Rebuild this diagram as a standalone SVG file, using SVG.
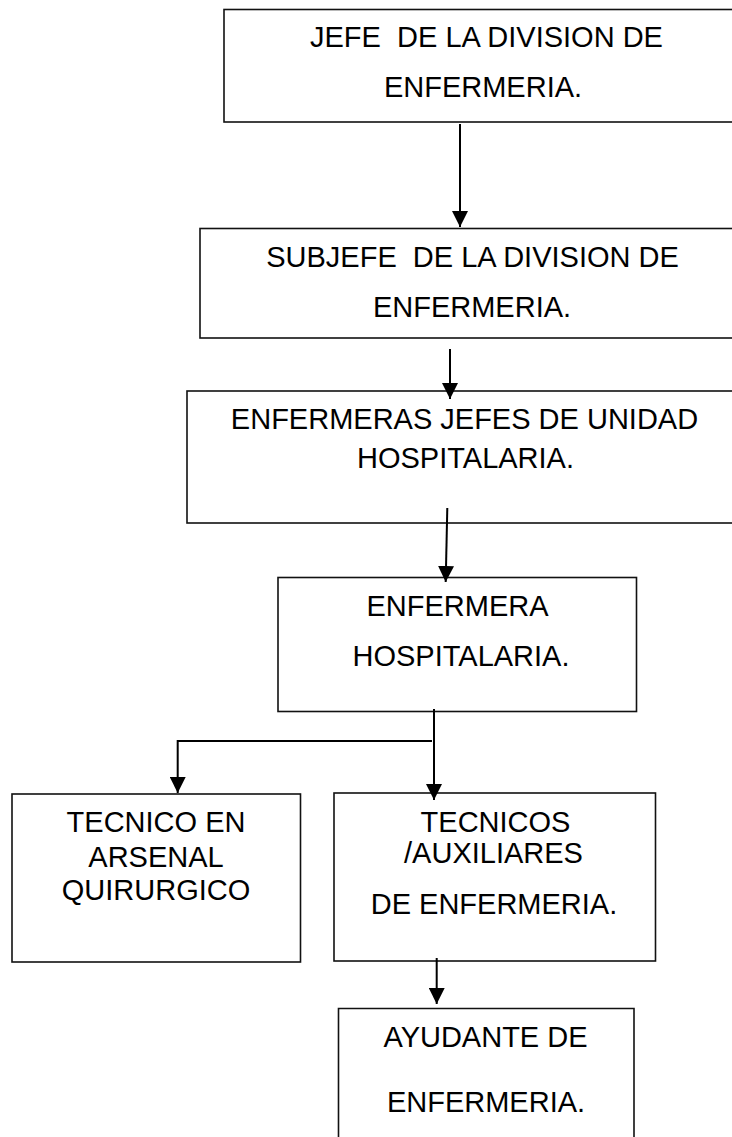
<svg xmlns="http://www.w3.org/2000/svg" width="732" height="1137" viewBox="0 0 732 1137">
<style>
.box{fill:#ffffff;stroke:#111111;stroke-width:1.6}
.t{font-family:"Liberation Sans",Arial,sans-serif;font-size:29px;fill:#000000;text-anchor:middle}
.c{fill:none;stroke:#000000;stroke-width:2}
</style>
<defs>
<marker id="ah" markerUnits="userSpaceOnUse" markerWidth="16" markerHeight="16" refX="16" refY="8" orient="auto" viewBox="0 0 16 16">
<path d="M0,0 L16,8 L0,16 Z" fill="#000000"/>
</marker>
</defs>
<rect width="732" height="1137" fill="#ffffff"/>
<g id="n1">
<rect class="box" x="224" y="9.5" width="520" height="112.5"/>
<text class="t" x="486.5" y="47" xml:space="preserve">JEFE  DE LA DIVISION DE</text>
<text class="t" x="483" y="97">ENFERMERIA.</text>
</g>
<g id="n2">
<rect class="box" x="200" y="228.5" width="544" height="109.5"/>
<text class="t" x="472.5" y="267" xml:space="preserve">SUBJEFE  DE LA DIVISION DE</text>
<text class="t" x="472" y="317">ENFERMERIA.</text>
</g>
<g id="n3">
<rect class="box" x="187" y="391" width="557" height="132"/>
<text class="t" x="464.5" y="429">ENFERMERAS JEFES DE UNIDAD</text>
<text class="t" x="465.5" y="468">HOSPITALARIA.</text>
</g>
<g id="n4">
<rect class="box" x="278" y="577.5" width="358.5" height="134"/>
<text class="t" x="457.5" y="616">ENFERMERA</text>
<text class="t" x="461" y="666">HOSPITALARIA.</text>
</g>
<g id="n5">
<rect class="box" x="12" y="794" width="288.5" height="168"/>
<text class="t" x="156" y="832">TECNICO EN</text>
<text class="t" x="156" y="867">ARSENAL</text>
<text class="t" x="156" y="900">QUIRURGICO</text>
</g>
<g id="n6">
<rect class="box" x="334" y="793" width="321.5" height="168"/>
<text class="t" x="495.5" y="832">TECNICOS</text>
<text class="t" x="493.5" y="863">/AUXILIARES</text>
<text class="t" x="494" y="914">DE ENFERMERIA.</text>
</g>
<g id="n7">
<path class="box" d="M338.5,1140 L338.5,1008.5 L634,1008.5 L634,1140" fill="none"/>
<text class="t" x="485.5" y="1047">AYUDANTE DE</text>
<text class="t" x="486" y="1112">ENFERMERIA.</text>
</g>
<g id="connectors">
<line class="c" x1="460" y1="124" x2="460" y2="227" marker-end="url(#ah)"/>
<line class="c" x1="450" y1="349" x2="450" y2="399" marker-end="url(#ah)"/>
<line class="c" x1="447.3" y1="508" x2="445.7" y2="582" marker-end="url(#ah)"/>
<line class="c" x1="434" y1="709" x2="434" y2="800" marker-end="url(#ah)"/>
<polyline class="c" points="432,741 177.7,741 177.7,793" marker-end="url(#ah)"/>
<line class="c" x1="436.7" y1="958" x2="436.7" y2="1004" marker-end="url(#ah)"/>
</g>
</svg>
